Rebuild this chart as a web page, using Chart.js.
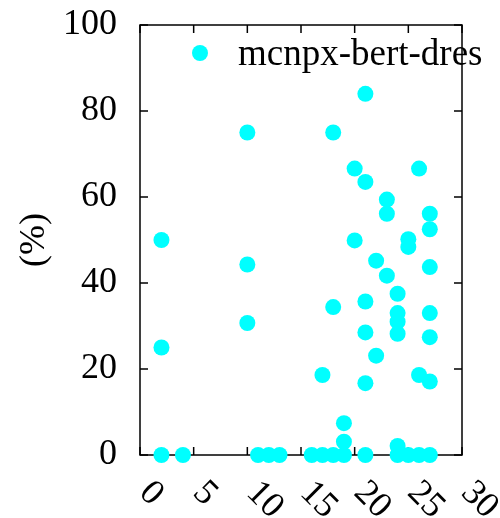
<!DOCTYPE html>
<html lang="en">
<head>
    <meta charset=utf-8>
    <title>mcnpx-bert-dres</title>
    <script src="https://cdn.jsdelivr.net/npm/chart.js@4/dist/chart.umd.min.js"></script>
    <style>
        body { margin: 0; background: #fff; }
        canvas { display: block; }
    </style>
</head>
<body>
<canvas id="myChart" width="500" height="518"></canvas>
<script>
    // points, paired by index
    var xs = [2, 2, 2, 4, 10, 10, 10, 11, 12, 13, 16, 17, 17, 18, 18, 18, 19, 19, 19, 20, 20,
        21, 21, 21, 21, 21, 21, 22, 22, 23, 23, 23, 24, 24, 24, 24, 24, 24, 25, 25, 25,
        26, 26, 26, 27, 27, 27, 27, 27, 27, 27];
    var ys = [50, 25, 0, 0, 75, 44.3, 30.7, 0, 0, 0, 0, 18.6, 0, 75, 34.4, 0, 7.4, 3.1, 0, 66.6, 49.9,
        84, 63.5, 35.7, 28.5, 16.7, 0, 45.2, 23.1, 59.4, 56.1, 41.7, 37.5, 33, 31, 28.2, 2.1, 0, 50.2, 48.4, 0,
        66.6, 18.6, 0, 56.1, 52.5, 43.7, 33, 27.4, 17.1, 0];
    var xTicks = [0, 5, 10, 15, 20, 25, 30];
    var yTicks = [0, 20, 40, 60, 80, 100];
    var seriesName = 'mcnpx-bert-dres';
    var yTitle = '(%)';

    var FONT = 'Liberation Serif';
    var CYAN = '#00ffff';

    var points = xs.map(function (x, i) {
        return {x: x, y: ys[i]};
    });

    // gnuplot style frame: box all round, short inward ticks on every side
    var frame = {
        id: 'frame',
        beforeDatasetsDraw: function (chart) {
            var ctx = chart.ctx, a = chart.chartArea;
            var sx = chart.scales.x, sy = chart.scales.y;
            var tl = 8;
            ctx.save();
            ctx.strokeStyle = '#000';
            ctx.lineWidth = 1.5;
            ctx.strokeRect(a.left, a.top, a.right - a.left, a.bottom - a.top);
            ctx.beginPath();
            xTicks.forEach(function (v) {
                var px = sx.getPixelForValue(v);
                ctx.moveTo(px, a.bottom); ctx.lineTo(px, a.bottom - tl);
                ctx.moveTo(px, a.top); ctx.lineTo(px, a.top + tl);
            });
            yTicks.forEach(function (v) {
                var py = sy.getPixelForValue(v);
                ctx.moveTo(a.left, py); ctx.lineTo(a.left + tl, py);
                ctx.moveTo(a.right, py); ctx.lineTo(a.right - tl, py);
            });
            ctx.stroke();
            ctx.restore();
        },
        afterDraw: function (chart) {
            var ctx = chart.ctx, a = chart.chartArea;
            var sx = chart.scales.x;
            ctx.save();
            ctx.fillStyle = '#000';
            ctx.font = '36px "' + FONT + '"';
            // x tick labels turned 45 degrees clockwise
            xTicks.forEach(function (v) {
                var px = sx.getPixelForValue(v);
                ctx.save();
                ctx.translate(px - 2, a.bottom + 39);
                ctx.rotate(Math.PI / 4);
                ctx.textAlign = 'left';
                ctx.textBaseline = 'alphabetic';
                ctx.fillText(String(v), 0, 0);
                ctx.restore();
            });
            // key, top right inside the box
            var kx = a.left + 60, ky = a.top + 28;
            ctx.fillStyle = CYAN;
            ctx.beginPath();
            ctx.arc(kx, ky, 8, 0, Math.PI * 2);
            ctx.fill();
            ctx.fillStyle = '#000';
            ctx.font = '37px "' + FONT + '"';
            ctx.textAlign = 'left';
            ctx.textBaseline = 'alphabetic';
            ctx.fillText(seriesName, kx + 38, ky + 12);
            ctx.restore();
        }
    };

    var ctx = document.getElementById('myChart').getContext('2d');
    var chart = new Chart(ctx, {
        type: 'scatter',
        data: {
            datasets: [{
                label: seriesName,
                data: points,
                backgroundColor: CYAN,
                borderWidth: 0,
                pointRadius: 8,
                pointHoverRadius: 8,
                clip: false
            }]
        },
        options: {
            responsive: false,
            animation: false,
            events: [],
            layout: {padding: {top: 25, right: 38, left: 0, bottom: 0}},
            plugins: {legend: {display: false}, tooltip: {enabled: false}},
            scales: {
                x: {
                    type: 'linear', min: 0, max: 30,
                    ticks: {display: false},
                    grid: {display: false, drawTicks: false},
                    border: {display: false},
                    afterBuildTicks: function (s) {
                        s.ticks = xTicks.map(function (v) { return {value: v}; });
                    },
                    afterFit: function (s) {
                        s.height = 63;
                        s.paddingLeft = 0; s.paddingRight = 0;
                    }
                },
                y: {
                    min: 0, max: 100,
                    ticks: {color: '#000', padding: 23, font: {family: FONT, size: 36}},
                    grid: {display: false, drawTicks: false},
                    border: {display: false},
                    title: {
                        display: true, text: yTitle, color: '#000',
                        font: {family: FONT, size: 36},
                        padding: {top: 13, bottom: 0}
                    },
                    afterBuildTicks: function (s) {
                        s.ticks = yTicks.map(function (v) { return {value: v}; });
                    },
                    afterFit: function (s) {
                        s.width = 140;
                        s.paddingTop = 0; s.paddingBottom = 0;
                    }
                }
            }
        },
        plugins: [frame]
    });
</script>
</body>
</html>
